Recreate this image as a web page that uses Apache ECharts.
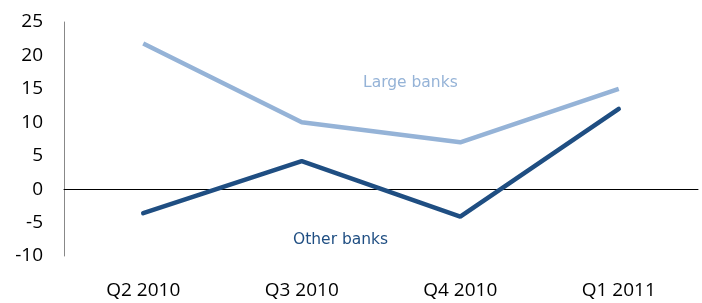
<!DOCTYPE html>
<html>
<head>
<meta charset="utf-8">
<script src="https://cdn.jsdelivr.net/npm/echarts@6/dist/echarts.min.js"></script>
<style>
  html, body { margin: 0; padding: 0; background: #fff; }
  #chart { width: 702px; height: 303px; }
</style>
</head>
<body>
<div id="chart"></div>
<script>
"use strict";
const categories = ['Q2 2010', 'Q3 2010', 'Q4 2010', 'Q1 2011'];
const largeBanks = [21.8, 10, 7, 15];
const otherBanks = [-3.6, 4.2, -4.1, 12];
const yTicks = [-10, -5, 0, 5, 10, 15, 20, 25];

const chart = echarts.init(document.getElementById('chart'));
const font = '"Open Sans", "Noto Sans", sans-serif';
const option = {
    animation: false,
    grid: { left: 64, right: 4, top: 22, bottom: 47 },
    xAxis: {
        type: 'category',
        data: categories,
        boundaryGap: true,
        axisLine: { onZero: true, lineStyle: { color: '#000', width: 1 } },
        axisTick: { show: false },
        axisLabel: { color: '#000', fontFamily: font, fontSize: 19, margin: 25 }
    },
    yAxis: {
        type: 'value',
        min: yTicks[0],
        max: yTicks[yTicks.length - 1],
        interval: 5,
        axisLine: { show: true, lineStyle: { color: '#888', width: 1 } },
        axisTick: { show: false },
        splitLine: { show: false },
        axisLabel: { color: '#000', fontFamily: font, fontSize: 19, margin: 21 }
    },
    series: [
        {
            name: 'Large banks',
            type: 'line',
            data: largeBanks,
            symbol: 'none',
            lineStyle: { color: '#95b3d7', width: 4.5 },
            z: 3
        },
        {
            name: 'Other banks',
            type: 'line',
            data: otherBanks,
            symbol: 'none',
            lineStyle: { color: '#1f4e82', width: 4.5, cap: 'round' },
            z: 4
        }
    ],
    graphic: [
        {
            type: 'text', left: 363, top: 75,
            style: { text: 'Large banks', fill: '#95b3d7', font: '15.5px "DejaVu Sans", sans-serif' }
        },
        {
            type: 'text', left: 293, top: 232,
            style: { text: 'Other banks', fill: '#1f4e82', font: '15.5px "DejaVu Sans", sans-serif' }
        }
    ]
};
chart.setOption(option);
</script>
</body>
</html>
